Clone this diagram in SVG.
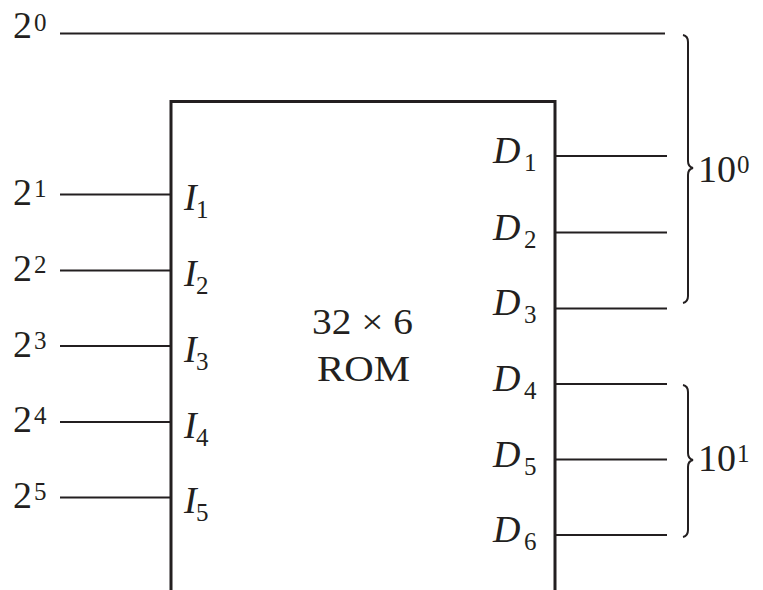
<svg xmlns="http://www.w3.org/2000/svg" width="763" height="590" viewBox="0 0 763 590">
<style>
.t{font-family:"Liberation Serif","Times New Roman",serif;fill:#231f20}
.m{font-size:38px}
.c{font-size:35px}
.s{font-size:25px}
.i{font-style:italic}
.w{stroke:#231f20;stroke-width:2.2;fill:none}
.b{stroke:#231f20;stroke-width:2;fill:none}
</style>
<rect width="763" height="590" fill="#fff"/>
<g id="rom">
<path d="M171,595 V101.5 H555 V595" stroke="#231f20" stroke-width="3" fill="none"/>
<text class="t c" x="312" y="334" textLength="101" lengthAdjust="spacingAndGlyphs">32 × 6</text>
<text class="t c" x="317" y="381" textLength="93" lengthAdjust="spacingAndGlyphs">ROM</text>
<text class="t m i" x="184" y="210">I</text><text class="t s" x="196" y="218">1</text>
<text class="t m i" x="184" y="286">I</text><text class="t s" x="196" y="294">2</text>
<text class="t m i" x="184" y="362">I</text><text class="t s" x="196" y="370">3</text>
<text class="t m i" x="184" y="438">I</text><text class="t s" x="196" y="446">4</text>
<text class="t m i" x="184" y="513">I</text><text class="t s" x="196" y="521">5</text>
<text class="t m i" x="493" y="163">D</text><text class="t s" x="524" y="171">1</text>
<text class="t m i" x="493" y="240">D</text><text class="t s" x="524" y="248">2</text>
<text class="t m i" x="493" y="315">D</text><text class="t s" x="524" y="323">3</text>
<text class="t m i" x="493" y="391">D</text><text class="t s" x="524" y="399">4</text>
<text class="t m i" x="493" y="467">D</text><text class="t s" x="524" y="475">5</text>
<text class="t m i" x="493" y="542">D</text><text class="t s" x="524" y="550">6</text>
</g>
<g id="inputs">
<text class="t m" x="13" y="38">2</text><text class="t s" x="34" y="31">0</text>
<text class="t m" x="13" y="205">2</text><text class="t s" x="34" y="197">1</text>
<text class="t m" x="13" y="281">2</text><text class="t s" x="34" y="273">2</text>
<text class="t m" x="13" y="357">2</text><text class="t s" x="34" y="349">3</text>
<text class="t m" x="13" y="432">2</text><text class="t s" x="34" y="424">4</text>
<text class="t m" x="13" y="508">2</text><text class="t s" x="34" y="500">5</text>
</g>
<g id="outputs">
<text class="t m" x="698" y="182">10</text><text class="t s" x="737" y="173">0</text>
<text class="t m" x="698" y="471">10</text><text class="t s" x="737" y="462">1</text>
</g>
<g id="connectors">
<path class="w" d="M60,33.5 H665"/>
<path class="w" d="M60,194.5 H171 M60,270.5 H171 M60,346 H171 M60,422 H171 M60,497.5 H171"/>
<path class="w" d="M555,156 H667 M555,232.5 H667 M555,308.5 H667 M555,384 H667 M555,459.5 H667 M555,535 H667"/>
<path class="b" d="M683,35 Q688,36 688,42 V161 Q688,167 693,168 Q688,169 688,175 V296 Q688,302 683,303"/>
<path class="b" d="M683,385 Q688,386 688,392 V453 Q688,459 693,460 Q688,461 688,467 V530 Q688,536 683,537"/>
</g>
</svg>
